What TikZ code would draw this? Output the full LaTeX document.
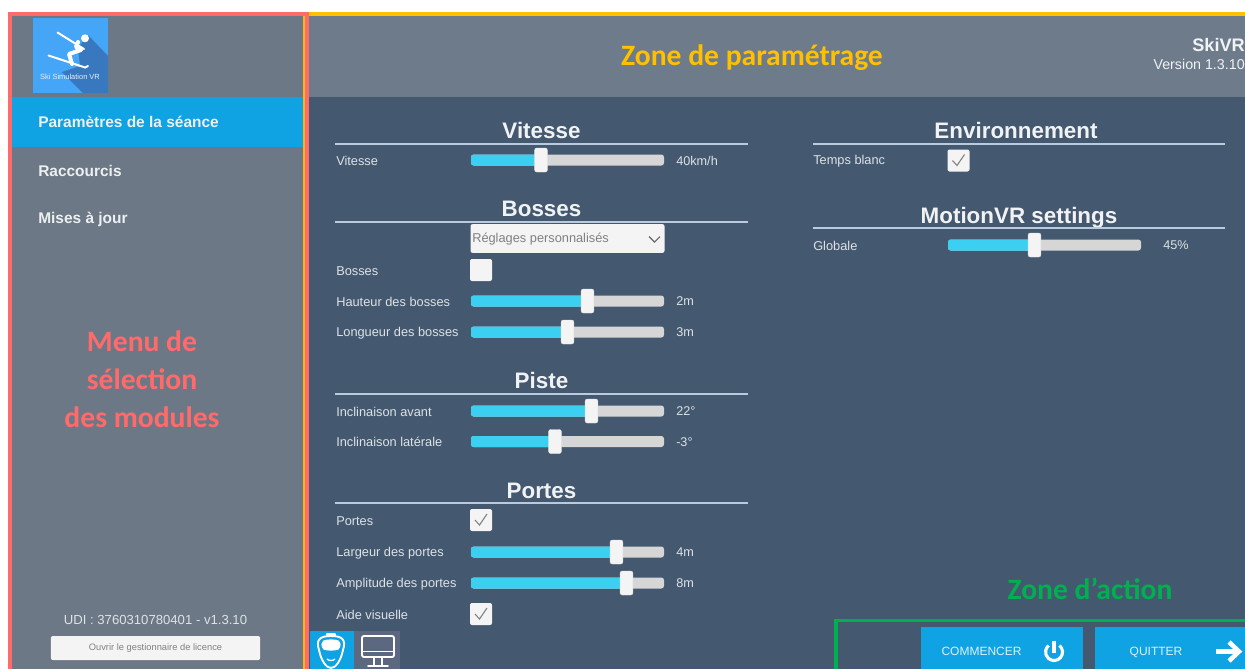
\documentclass[tikz,border=0pt]{standalone}
\usepackage{fontspec}
\setmainfont{Liberation Sans}
\newfontfamily\zonefont{Carlito}
\usetikzlibrary{calc}
\definecolor{panel}{HTML}{6C7886}
\definecolor{head}{HTML}{6D7B8B}
\definecolor{mainbg}{HTML}{44586F}
\definecolor{skyb}{HTML}{0FA3E3}
\definecolor{cyanb}{HTML}{3BD0F2}
\definecolor{track}{HTML}{D6D6D6}
\definecolor{knob}{HTML}{F4F4F4}
\definecolor{txt}{HTML}{DDE2E6}
\definecolor{rulec}{HTML}{B9CBDD}
\definecolor{redz}{HTML}{FF6B6B}
\definecolor{yelz}{HTML}{FFC000}
\definecolor{orz}{HTML}{F5A623}
\definecolor{grnz}{HTML}{00B050}
\definecolor{logob}{HTML}{45A5F7}
\definecolor{logod}{HTML}{3778BE}
\definecolor{tabg}{HTML}{5C6880}
\tikzset{
  x=0.75pt,y=-0.75pt,
  lab/.style={anchor=west,inner sep=0pt,yshift=-0.6pt,text=txt,font=\fontsize{9.6}{11}\selectfont},
  val/.style={anchor=west,inner sep=0pt,yshift=-0.4pt,text=txt,font=\fontsize{9.5}{11}\selectfont},
  sect/.style={anchor=base,inner sep=0pt,text=white!92!mainbg,font=\bfseries\fontsize{16.8}{18}\selectfont},
  menu/.style={anchor=base west,inner sep=0pt,text=white!88!panel,font=\bfseries\fontsize{11.6}{13}\selectfont},
  zone/.style={inner sep=0pt,align=center,font=\zonefont\bfseries\fontsize{22.2}{28.5}\selectfont},
  sec/.style={draw=rulec,line width=1.1pt},
  box/.style={fill=knob,rounded corners=1.5pt},
  ico/.style={draw=white,line width=1.4pt,line cap=round,line join=round},
  btn/.style={anchor=base,inner sep=0pt,text=white!85!skyb,font=\fontsize{9}{11}\selectfont},
}
% \slid{name}{track start}{y}{handle x}
\newcommand{\slid}[4]{%
  \coordinate (#1h) at (#4,#3);
  \fill[track,rounded corners=2pt] (#2,#3-5.5) rectangle (#2+193,#3+5.5);
  \fill[cyanb,rounded corners=2pt] (#2,#3-5.5) rectangle (#4,#3+5.5);
  \node[box,minimum width=9.5pt,minimum height=18pt,inner sep=0pt,draw=track!60!knob,line width=.3pt] (#1k) at (#1h) {};
}
\newcommand{\chk}[4]{% name, x, y, checked
  \node[box,minimum width=16.5pt,minimum height=16.5pt,inner sep=0pt] (#1) at (#2,#3) {};
  \ifnum#4=1 \draw[draw=black!50,line width=.8pt] ($(#1)+(-6,0)$) -- ($(#1)+(-1.5,5)$) -- ($(#1)+(6,-6)$);\fi
}
\begin{document}
\begin{tikzpicture}
\useasboundingbox (0,0) rectangle (1245,669);
\fill[white] (0,0) rectangle (1245,669);
% panels
\fill[panel] (10,14) rectangle (305,669);
\fill[head] (309,14) rectangle (1245,97);
\fill[mainbg] (309,97) rectangle (1245,669);
\fill[skyb] (12,97) rectangle (303,147);
% logo
\fill[logob] (33,18) rectangle (108,93);
\fill[logod] (88,35) -- (108,56) -- (108,93) -- (83,93) -- (62,72) -- (80,66) -- (78,48) -- cycle;
\draw[white,line width=1.5pt,line cap=round] (48.5,55.5) -- (85,67.5) -- (88,66);
\draw[white,line width=1.5pt,line cap=round] (57.5,32.5) -- (84,49);
\fill[white] (85,38.3) circle (4);
\draw[white,line width=3pt,line cap=round,line join=round] (78,42) -- (76,47) -- (81,50) -- (69,54) -- (72,64);
\node[inner sep=0pt,text=white!85!logob,font=\fontsize{5.6}{6}\selectfont] (logotxt) at (70,76.5) {Ski Simulation VR};
% menu
\node[menu] (m1) at (38,127.5) {Paramètres de la séance};
\node[menu] (m2) at (38,176.5) {Raccourcis};
\node[menu] (m3) at (38,223.5) {Mises à jour};
\node[inner sep=0pt,text=txt,font=\fontsize{9.85}{11}\selectfont] (udi) at (155.5,620) {UDI : 3760310780401 - v1.3.10};
\node[fill=knob,rounded corners=1.5pt,minimum width=157pt,minimum height=18pt,inner sep=0pt,text=black!50,font=\fontsize{7}{8}\selectfont] (lic) at (155.5,648) {Ouvrir le gestionnaire de licence};
% header
\node[zone,text=yelz] (zp) at (752,58) {Zone de paramétrage};
\node[anchor=east,inner sep=0pt,text=white!90!head,font=\bfseries\fontsize{13.6}{14}\selectfont] (ski) at (1245,45) {SkiVR};
\node[anchor=east,inner sep=0pt,text=white!90!head,font=\fontsize{10.7}{12}\selectfont] (ver) at (1245,64) {Version 1.3.10};
% sections left
\node[sect] (s1) at (541.5,138.5) {Vitesse};
\draw[sec] (335,144) -- (748,144);
\node[sect] (s2) at (541.5,216.5) {Bosses};
\draw[sec] (335,222) -- (748,222);
\node[sect] (s3) at (541.5,388.5) {Piste};
\draw[sec] (335,394) -- (748,394);
\node[sect] (s4) at (541.5,498.5) {Portes};
\draw[sec] (335,503) -- (748,503);
% sections right
\node[sect] (s5) at (1016,138.5) {Environnement};
\draw[sec] (813,144) -- (1225,144);
\node[sect] (s6) at (1019,223.5) {MotionVR settings};
\draw[sec] (813,228) -- (1225,228);
% rows
\node[lab] (l1) at (336,160) {Vitesse};
\slid{a}{471}{160}{541}
\node[val] (v1) at (676,160) {40km/h};
\node[box,minimum width=145.5pt,minimum height=21.5pt,inner sep=0pt] (dd) at (567.5,238.5) {};
\node[anchor=west,inner sep=0pt,yshift=-0.6pt,text=black!50,font=\fontsize{9.6}{11}\selectfont] (ddt) at (472,238.5) {Réglages personnalisés};
\draw[black!60,line width=.8pt] (649,236.5) -- (654.5,242) -- (660,236.5);
\node[lab] (l2) at (336,270) {Bosses};
\chk{c1}{481}{270}{0}
\node[lab] (l3) at (336,301) {Hauteur des bosses};
\slid{b}{471}{301}{587.5}
\node[val] (v3) at (676,301) {2m};
\node[lab] (l4) at (336,332) {Longueur des bosses};
\slid{c}{471}{332}{567.5}
\node[val] (v4) at (676,332) {3m};
\node[lab] (l5) at (336,411) {Inclinaison avant};
\slid{d}{471}{411}{591.5}
\node[val] (v5) at (676,411) {22°};
\node[lab] (l6) at (336,441.5) {Inclinaison latérale};
\slid{e}{471}{441.5}{555}
\node[val] (v6) at (676,441.5) {-3°};
\node[lab] (l7) at (336,520) {Portes};
\chk{c2}{481}{520}{1}
\node[lab] (l8) at (336,552) {Largeur des portes};
\slid{f}{471}{552}{616.5}
\node[val] (v8) at (676,552) {4m};
\node[lab] (l9) at (336,583) {Amplitude des portes};
\slid{g}{471}{583}{626.5}
\node[val] (v9) at (676,583) {8m};
\node[lab] (l10) at (336,614) {Aide visuelle};
\chk{c3}{481}{614}{1}
\node[lab] (r1) at (813,160.5) {Temps blanc};
\chk{c4}{958.5}{160.5}{1}
\node[lab] (r2) at (813,245) {Globale};
\slid{h}{948}{245}{1034.5}
\node[val] (r3) at (1163,245) {45\%};
% tabs
\fill[skyb] (310,631) rectangle (354,669);
\fill[tabg] (354,631) rectangle (400,669);
% headset
\fill[white] (323.5,649.5) .. controls (320.5,646) and (321,643) .. (323.5,640.5) .. controls (327,639) and (335,639) .. (338.5,640.5) .. controls (341,643) and (341.5,646) .. (338.5,649.5) .. controls (335,651) and (327,651) .. (323.5,649.5) -- cycle;
\draw[ico] (319,650) .. controls (316,640) and (319,636) .. (331,636) .. controls (343,636) and (346,640) .. (343,650);
\draw[ico,fill=white] (327,634) rectangle (335,635.5);
\draw[ico] (319,650) .. controls (321,660) and (326,668) .. (331,668) .. controls (336,668) and (341,660) .. (343,650);
\draw[white,line width=1pt] (327,659) .. controls (329,661) and (333,661) .. (335,659);
% monitor
\draw[ico,rounded corners=1.5pt] (362,636) rectangle (394,657);
\draw[ico] (362,651.5) -- (394,651.5) (374,657) -- (374,665) (382,657) -- (382,665) (368,666) -- (388,666);
% action
\fill[skyb] (921,627) rectangle (1083,669);
\fill[skyb] (1095,627) rectangle (1245,669);
\node[btn] (start) at (981.5,655.5) {COMMENCER};
\node[btn] (quit) at (1156,655.5) {QUITTER};
\draw[white,line width=2.3pt] (1059.5,645.5) arc[start angle=-50,end angle=230,radius=8.5];
\draw[white,line width=2.3pt] (1054,640.5) -- (1054,652.5);
\draw[white,line width=3.4pt] (1216,651.5) -- (1238,651.5);
\draw[white,line width=3.4pt,line join=miter] (1229,642) -- (1239,651.5) -- (1229,661);
% zones
\node[zone,text=redz] (zm) at (142,379) {Menu de\\sélection\\des modules};
\node[zone,text=grnz] (za) at (1090,588.5) {Zone d’action};
\draw[yelz,line width=3pt] (309,14.3) -- (1245,14.3);
\draw[yelz!65!orz,line width=1.5pt] (304,16) -- (304,669);
\draw[redz,line width=3pt] (10.3,669) -- (10.3,14.3) -- (307.3,14.3) -- (307.3,669);
\draw[grnz,line width=2.4pt] (836,669) -- (836,620.5) -- (1245,620.5);
\end{tikzpicture}
\end{document}
